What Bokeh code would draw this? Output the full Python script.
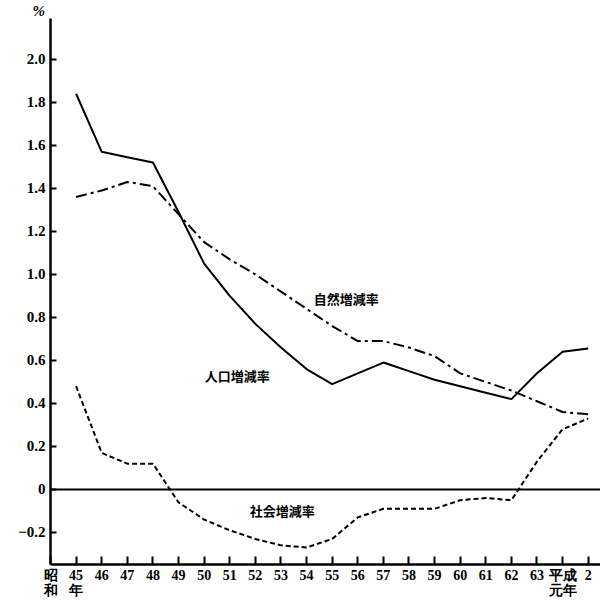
from bokeh.plotting import figure
from bokeh.models import Range1d, FixedTicker, Span, Label
from bokeh.embed import file_html
from bokeh.resources import INLINE

# x categories (index positions) and tick labels
tick_positions = list(range(-1, 21))
tick_labels = ["昭\n和", "45\n年", "46", "47", "48", "49", "50", "51", "52", "53", "54",
               "55", "56", "57", "58", "59", "60", "61", "62", "63", "平成\n元年", "2"]
years = list(range(0, 21))  # 昭和45年 ... 平成2年

# 人口増減率 (solid)
jinko = [1.84, 1.57, 1.545, 1.52, 1.29, 1.05, 0.90, 0.77, 0.66, 0.56, 0.49,
         0.54, 0.59, 0.55, 0.51, 0.48, 0.45, 0.42, 0.54, 0.64, 0.655]
# 自然増減率 (dash-dot)
shizen = [1.36, 1.39, 1.43, 1.41, 1.28, 1.15, 1.07, 1.00, 0.92, 0.84, 0.76,
          0.69, 0.69, 0.66, 0.62, 0.54, 0.50, 0.46, 0.41, 0.36, 0.35]
# 社会増減率 (dashed)
shakai = [0.48, 0.17, 0.12, 0.12, -0.06, -0.14, -0.19, -0.23, -0.26, -0.27, -0.23,
          -0.13, -0.09, -0.09, -0.09, -0.05, -0.04, -0.05, 0.13, 0.28, 0.33]

y_ticks = [-0.2, 0.0, 0.2, 0.4, 0.6, 0.8, 1.0, 1.2, 1.4, 1.6, 1.8, 2.0]
y_tick_labels = ["−0.2", "0", "0.2", "0.4", "0.6", "0.8", "1.0", "1.2", "1.4", "1.6", "1.8", "2.0"]

font = "Liberation Serif"

p = figure(width=600, height=600, output_backend="svg", toolbar_location=None,
           x_range=Range1d(-1.0, 20.48), y_range=Range1d(-0.349, 2.19),
           min_border_left=50, min_border_right=0, min_border_top=13, min_border_bottom=10,
           title="%")
p.title.align = "left"
p.title.offset = -18
p.title.standoff = 0
p.title.text_font = font
p.title.text_font_style = "bold italic"
p.title.text_font_size = "15px"
p.title.text_color = "black"

p.outline_line_color = None
p.xgrid.visible = False
p.ygrid.visible = False
p.background_fill_color = "white"
p.border_fill_color = "white"

for ax in (p.xaxis[0], p.yaxis[0]):
    ax.axis_line_width = 2.5
    ax.axis_line_color = "black"
    ax.major_tick_line_width = 2
    ax.major_tick_line_color = "black"
    ax.major_tick_out = 0
    ax.minor_tick_line_color = None
    ax.major_label_text_font = font
    ax.major_label_text_font_style = "bold"
    ax.major_label_text_color = "black"

p.xaxis[0].ticker = FixedTicker(ticks=tick_positions)
p.xaxis[0].major_label_overrides = {t: l for t, l in zip(tick_positions, tick_labels)}
p.xaxis[0].major_tick_in = 8
p.xaxis[0].major_label_standoff = 3
p.xaxis[0].major_label_text_font_size = "14px"
p.xaxis[0].major_label_text_line_height = 1.0

p.yaxis[0].ticker = FixedTicker(ticks=y_ticks)
p.yaxis[0].major_label_overrides = {t: l for t, l in zip(y_ticks, y_tick_labels)}
p.yaxis[0].major_tick_in = 6
p.yaxis[0].major_label_standoff = 5
p.yaxis[0].major_label_text_font_size = "15px"

# zero line
p.add_layout(Span(location=0, dimension="width", line_color="black", line_width=2))

p.line(years, jinko, line_color="black", line_width=2)
p.line(years, shizen, line_color="black", line_width=2, line_dash="11 4 3 4")
p.line(years, shakai, line_color="black", line_width=2, line_dash="5 3")

lab_font = "Noto Sans CJK JP"
for txt, x, y in [("自然増減率", 10.55, 0.89), ("人口増減率", 6.29, 0.53), ("社会増減率", 8.05, -0.10)]:
    p.add_layout(Label(x=x, y=y, text=txt, text_align="center", text_baseline="middle",
                       text_font=lab_font, text_font_style="bold", text_font_size="13px",
                       text_color="black"))

open("out.html", "w").write(file_html(p, INLINE))
